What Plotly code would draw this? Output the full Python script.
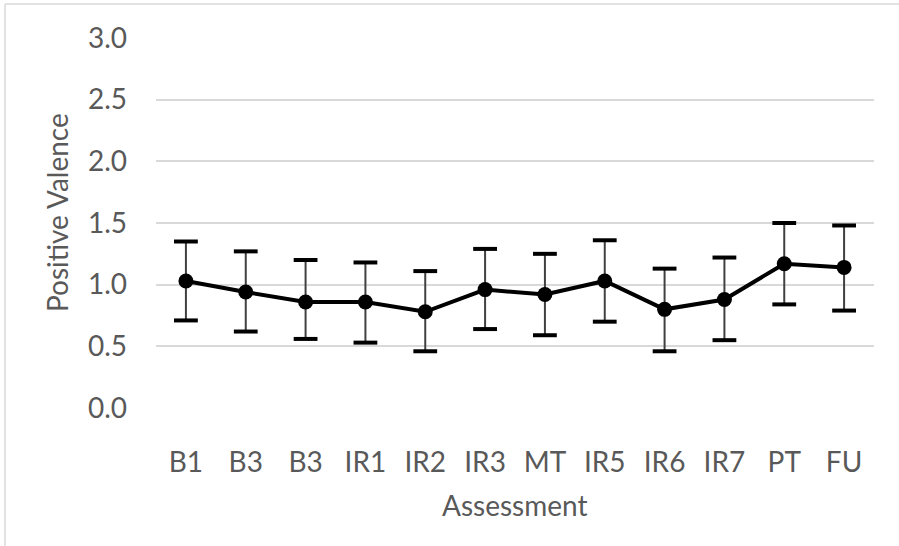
import plotly.graph_objects as go

categories = ["B1", "B3", "B3", "IR1", "IR2", "IR3", "MT", "IR5", "IR6", "IR7", "PT", "FU"]
means = [1.03, 0.94, 0.86, 0.86, 0.78, 0.96, 0.92, 1.03, 0.80, 0.88, 1.17, 1.14]
err_plus = [0.32, 0.33, 0.34, 0.32, 0.33, 0.33, 0.33, 0.33, 0.33, 0.34, 0.33, 0.34]
err_minus = [0.32, 0.32, 0.30, 0.33, 0.32, 0.32, 0.33, 0.33, 0.34, 0.33, 0.33, 0.35]
y_ticks = [0.0, 0.5, 1.0, 1.5, 2.0, 2.5, 3.0]

xpos = list(range(len(categories)))
upper = [m + p for m, p in zip(means, err_plus)]
lower = [m - e for m, e in zip(means, err_minus)]

FONT = "Lato"
GRAY = "#595959"

fig = go.Figure()
# error bar stems
fig.add_trace(go.Scatter(
    x=xpos, y=means, mode="markers",
    marker=dict(size=1, color="rgba(0,0,0,0)"),
    error_y=dict(type="data", symmetric=False, array=err_plus, arrayminus=err_minus,
                 color="#404040", thickness=2, width=0),
    showlegend=False, hoverinfo="skip"))
# caps
fig.add_trace(go.Scatter(
    x=xpos + xpos, y=upper + lower, mode="markers",
    marker=dict(symbol="line-ew", size=17, line=dict(width=4, color="black")),
    showlegend=False, hoverinfo="skip"))
# main line
fig.add_trace(go.Scatter(
    x=xpos, y=means, mode="lines+markers",
    line=dict(color="black", width=4),
    marker=dict(size=15, color="black"),
    showlegend=False))

fig.update_layout(
    width=899, height=546,
    margin=dict(l=156, r=25, t=38, b=138),
    paper_bgcolor="white", plot_bgcolor="white",
    font=dict(family=FONT, size=28, color=GRAY),
    xaxis=dict(range=[-0.5, 11.5], tickvals=xpos, ticktext=categories,
               showgrid=False, zeroline=False, showline=False, ticks="",
               ticklabelstandoff=35, tickfont=dict(size=28, color=GRAY)),
    yaxis=dict(range=[0, 3.0], tickvals=y_ticks, ticktext=[f"{v:.1f}" for v in y_ticks],
               showgrid=True, gridcolor="#d9d9d9", gridwidth=1.5,
               zeroline=False, showline=False, ticks="",
               ticklabelstandoff=28, tickfont=dict(size=28, color=GRAY)),
    annotations=[
        dict(text="Positive Valence", xref="paper", yref="paper",
             x=(57 - 156) / 718, y=(408 - 213) / 370, textangle=-90,
             showarrow=False, font=dict(size=28, color=GRAY, family=FONT),
             xanchor="center", yanchor="middle"),
        dict(text="Assessment", xref="paper", yref="paper",
             x=0.5, y=(408 - 505) / 370,
             showarrow=False, font=dict(size=28, color=GRAY, family=FONT),
             xanchor="center", yanchor="middle"),
    ],
    shapes=[
        dict(type="line", xref="paper", yref="paper",
             x0=(5 - 156) / 718, x1=(5 - 156) / 718,
             y0=(408 - 546) / 370, y1=(408 - 4) / 370,
             line=dict(color="#d9d9d9", width=1.5)),
        dict(type="line", xref="paper", yref="paper",
             x0=(5 - 156) / 718, x1=(899 - 156) / 718,
             y0=(408 - 4) / 370, y1=(408 - 4) / 370,
             line=dict(color="#d9d9d9", width=1.5)),
    ],
)

fig.write_html("out.html", config={"displayModeBar": False},
               post_script="document.body.style.margin='0';document.body.style.overflow='hidden';")
